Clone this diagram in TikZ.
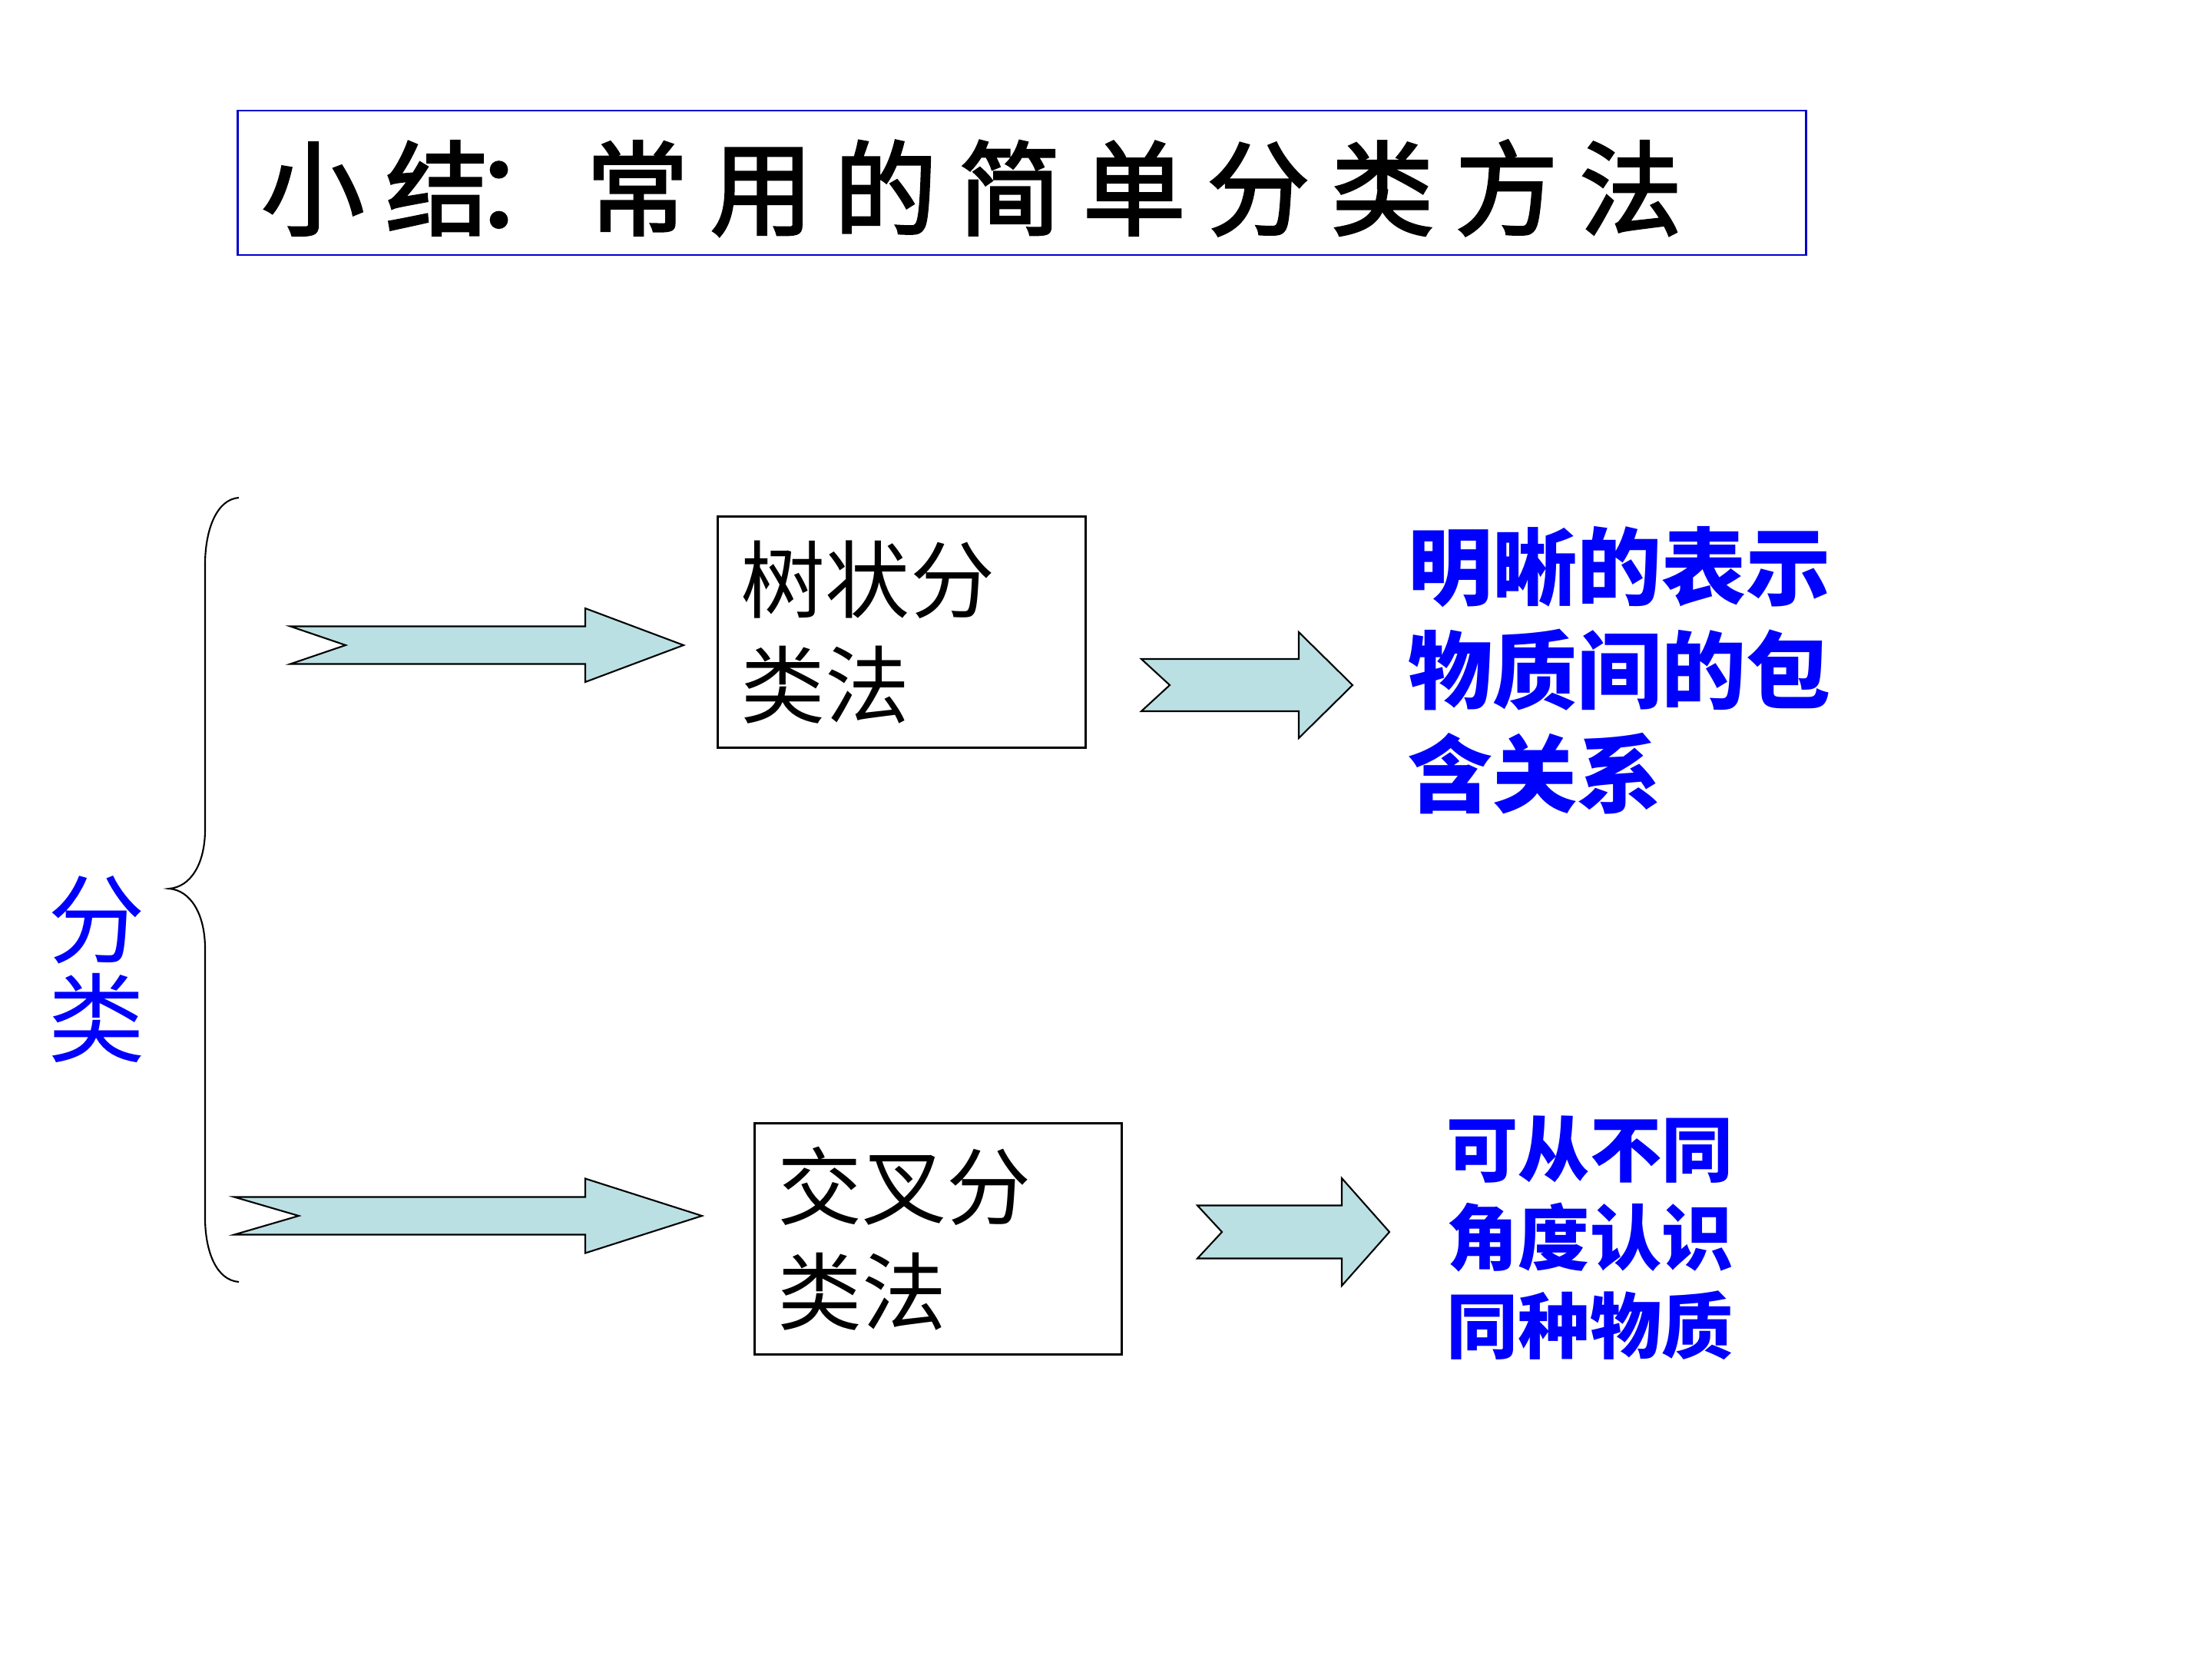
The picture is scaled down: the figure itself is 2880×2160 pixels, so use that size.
\documentclass[tikz,border=0pt]{standalone}
\usepackage{fontspec}
\setmainfont{Noto Sans CJK SC}
\newfontfamily\titlefont[LetterSpace=21, FakeBold=2.5]{Noto Sans CJK SC}
\usetikzlibrary{positioning}
\definecolor{titleblue}{RGB}{0,0,204}
\definecolor{textblue}{RGB}{0,0,255}
\definecolor{arrowcyan}{RGB}{187,224,227}

\tikzset{
  methodbox/.style={draw=black, line width=0.85pt, minimum width=4.78cm, minimum height=3cm,
    inner xsep=0.3cm, text width=4.18cm, align=left, font=\fontsize{31.3}{39}\selectfont},
  resulttext/.style={text=textblue, align=left, inner sep=0pt, anchor=west},
  blockarrow/.style={fill=arrowcyan, draw=black, line width=0.6pt, line join=miter},
}

\begin{document}
\begin{tikzpicture}[x=0.01cm, y=-0.01cm]
                % Page
                \fill[white] (0,0) rectangle (2880,2160);

                % Title
                \node[draw=titleblue, line width=0.8pt, minimum width=20.41cm, minimum height=1.88cm] (title) at (1330.5,238) {};
                \node[anchor=west, inner sep=0pt, font=\titlefont\fontsize{38}{38}\selectfont] (titletext) at (340,245) {小结\hspace{-0.15em}：\hspace{0.1em}常用的简单分类方法};

                % Brace
                \draw[line width=0.6pt] (311,648) .. controls (282,650) and (267,690) .. (267,735) -- (267,1080)
                    .. controls (267,1125) and (248,1155) .. (220,1157) .. controls (248,1159) and (267,1190) .. (267,1235)
                    -- (267,1585) .. controls (267,1630) and (282,1667) .. (311,1669);
                \node[text=textblue, align=center, inner sep=0pt, font=\fontsize{36}{36.5}\selectfont] (fenlei) at (126,1262) {分\\类};

                % Methods
                \node[methodbox] (tree) at (1174,823) {树状分\\类法};
                \node[methodbox] (cross) at (1221.5,1613) {交叉分\\类法};

                % Results
                \node[resulttext, font=\bfseries\fontsize{31.3}{38.4}\selectfont] (treeres) at (1833,873) {明晰的表示\\物质间的包\\含关系};
                \node[resulttext, font=\bfseries\fontsize{26.5}{32.7}\selectfont] (crossres) at (1883,1612) {可从不同\\角度认识\\同种物质};

                % Block arrows
                \foreach \xa/\xb/\y/\sh/\hh/\hl/\nt in {378/890/840/24.5/48/128/72, 305/914/1583/24.5/48.5/152/84,
                    1486/1761/892/34/69/70/37, 1559/1809/1604/34.5/70/62/32} {
                    \filldraw[blockarrow] (\xa,\y-\sh) -- (\xb-\hl,\y-\sh) -- (\xb-\hl,\y-\hh) -- (\xb,\y)
                        -- (\xb-\hl,\y+\hh) -- (\xb-\hl,\y+\sh) -- (\xa,\y+\sh) -- (\xa+\nt,\y) -- cycle;
                }
\end{tikzpicture}
\end{document}
